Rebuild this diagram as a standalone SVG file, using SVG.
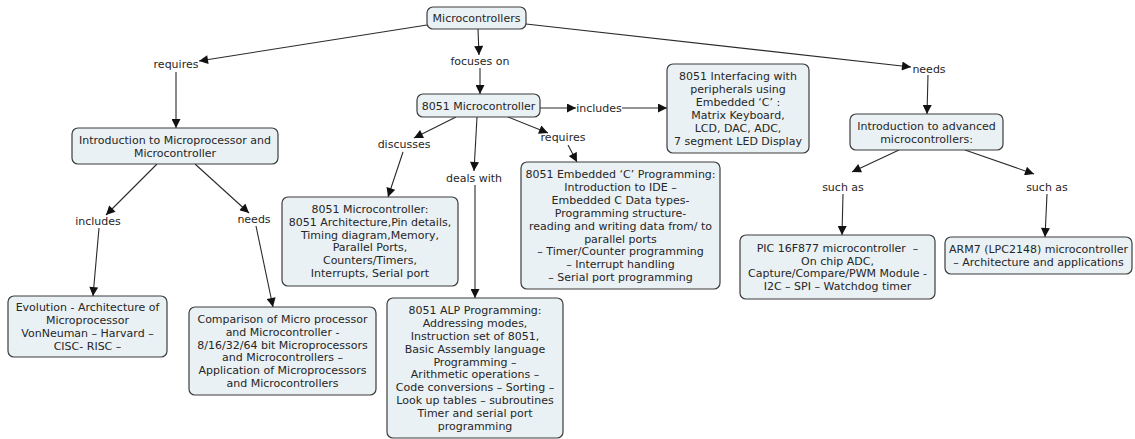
<svg xmlns="http://www.w3.org/2000/svg" width="1135" height="439" viewBox="0 0 1135 439">
<defs>
<style>
.box{fill:#eaf1f4;stroke:#3c3c3c;stroke-width:1.2}
.t{font-family:"DejaVu Sans",Verdana,sans-serif;font-size:11px;fill:#262626;text-anchor:middle}
.c{stroke:#2a2a2a;stroke-width:1.1;fill:none;marker-end:url(#ah)}
</style>
<marker id="ah" viewBox="0 0 10 10" refX="10" refY="5" markerWidth="10" markerHeight="9" markerUnits="userSpaceOnUse" orient="auto">
<path d="M0,0 L10,5 L0,10 z" fill="#111"/>
</marker>
</defs>
<rect width="1135" height="439" fill="#fff"/>
<g id="connectors">
<line class="c" x1="427" y1="25" x2="199" y2="61"/>
<line class="c" x1="176" y1="72" x2="176" y2="128"/>
<line class="c" x1="478" y1="29" x2="479" y2="55"/>
<line class="c" x1="480" y1="68" x2="480" y2="94"/>
<line class="c" x1="526" y1="24" x2="911" y2="67"/>
<line class="c" x1="928" y1="75" x2="927" y2="114"/>
<line class="c" x1="540" y1="108" x2="576" y2="108"/>
<line class="c" x1="622" y1="108" x2="667" y2="108"/>
<line class="c" x1="456" y1="117" x2="414" y2="138"/>
<line class="c" x1="403" y1="152" x2="388" y2="197"/>
<line class="c" x1="477" y1="117" x2="474" y2="171"/>
<line class="c" x1="475" y1="185" x2="475" y2="298"/>
<line class="c" x1="508" y1="117" x2="548" y2="133"/>
<line class="c" x1="568" y1="145" x2="577" y2="162"/>
<line class="c" x1="157" y1="164" x2="106" y2="215"/>
<line class="c" x1="99" y1="228" x2="93" y2="296"/>
<line class="c" x1="195" y1="164" x2="249" y2="213"/>
<line class="c" x1="256" y1="226" x2="273" y2="307"/>
<line class="c" x1="899" y1="150" x2="852" y2="172"/>
<line class="c" x1="843" y1="194" x2="842" y2="235"/>
<line class="c" x1="965" y1="150" x2="1034" y2="174"/>
<line class="c" x1="1047" y1="194" x2="1045" y2="237"/>
</g>
<g id="labels">
<text class="t" x="176" y="68">requires</text>
<text class="t" x="480" y="65">focuses on</text>
<text class="t" x="929" y="73">needs</text>
<text class="t" x="599" y="112">includes</text>
<text class="t" x="404" y="148">discusses</text>
<text class="t" x="474" y="182">deals with</text>
<text class="t" x="563" y="141">requires</text>
<text class="t" x="98" y="225">includes</text>
<text class="t" x="254" y="223">needs</text>
<text class="t" x="843" y="191">such as</text>
<text class="t" x="1047" y="191">such as</text>
</g>
<g id="n-microcontrollers">
<rect class="box" x="427" y="7" width="99" height="22" rx="6"/>
<text class="t" x="476.5" y="22">Microcontrollers</text>
</g>
<g id="n-intro-mp">
<rect class="box" x="72" y="128" width="206" height="36" rx="6"/>
<text class="t" x="175" y="144">Introduction to Microprocessor and</text>
<text class="t" x="175" y="157">Microcontroller</text>
</g>
<g id="n-8051">
<rect class="box" x="417" y="94" width="123" height="23" rx="6"/>
<text class="t" x="478.5" y="109.5">8051 Microcontroller</text>
</g>
<g id="n-interfacing">
<rect class="box" x="667" y="64" width="142" height="89" rx="6"/>
<text class="t" x="738" y="80">8051 Interfacing with</text>
<text class="t" x="738" y="93">peripherals using</text>
<text class="t" x="738" y="106">Embedded ‘C’ :</text>
<text class="t" x="738" y="119">Matrix Keyboard,</text>
<text class="t" x="738" y="132">LCD, DAC, ADC,</text>
<text class="t" x="738" y="145">7 segment LED Display</text>
</g>
<g id="n-intro-adv">
<rect class="box" x="850" y="114" width="153" height="36" rx="6"/>
<text class="t" x="926.5" y="130">Introduction to advanced</text>
<text class="t" x="926.5" y="143">microcontrollers:</text>
</g>
<g id="n-8051-detail">
<rect class="box" x="282" y="197" width="176" height="89" rx="6"/>
<text class="t" x="370" y="213">8051 Microcontroller:</text>
<text class="t" x="370" y="225.8">8051 Architecture,Pin details,</text>
<text class="t" x="370" y="238.6">Timing diagram,Memory,</text>
<text class="t" x="370" y="251.4">Parallel Ports,</text>
<text class="t" x="370" y="264.2">Counters/Timers,</text>
<text class="t" x="370" y="277">Interrupts, Serial port</text>
</g>
<g id="n-embedded-c">
<rect class="box" x="521" y="162" width="199" height="127" rx="6"/>
<text class="t" x="620.5" y="178">8051 Embedded ‘C’ Programming:</text>
<text class="t" x="620.5" y="190.9">Introduction to IDE –</text>
<text class="t" x="620.5" y="203.8">Embedded C Data types-</text>
<text class="t" x="620.5" y="216.7">Programming structure-</text>
<text class="t" x="620.5" y="229.6">reading and writing data from/ to</text>
<text class="t" x="620.5" y="242.5">parallel ports</text>
<text class="t" x="620.5" y="255.4">– Timer/Counter programming</text>
<text class="t" x="620.5" y="268.3">– Interrupt handling</text>
<text class="t" x="620.5" y="281.2">– Serial port programming</text>
</g>
<g id="n-alp">
<rect class="box" x="387" y="298" width="176" height="140" rx="6"/>
<text class="t" x="475" y="314.4">8051 ALP Programming:</text>
<text class="t" x="475" y="327.2">Addressing modes,</text>
<text class="t" x="475" y="340">Instruction set of 8051,</text>
<text class="t" x="475" y="352.8">Basic Assembly language</text>
<text class="t" x="475" y="365.6">Programming –</text>
<text class="t" x="475" y="378.4">Arithmetic operations –</text>
<text class="t" x="475" y="391.2">Code conversions – Sorting –</text>
<text class="t" x="475" y="404">Look up tables – subroutines</text>
<text class="t" x="475" y="416.8">Timer and serial port</text>
<text class="t" x="475" y="429.6">programming</text>
</g>
<g id="n-evolution">
<rect class="box" x="8" y="296" width="159" height="61" rx="6"/>
<text class="t" x="87.5" y="311.3">Evolution - Architecture of</text>
<text class="t" x="87.5" y="324.1">Microprocessor</text>
<text class="t" x="87.5" y="336.9">VonNeuman – Harvard –</text>
<text class="t" x="87.5" y="349.7">CISC- RISC –</text>
</g>
<g id="n-comparison">
<rect class="box" x="189" y="307" width="187" height="88" rx="6"/>
<text class="t" x="282.5" y="323">Comparison of Micro processor</text>
<text class="t" x="282.5" y="335.8">and Microcontroller -</text>
<text class="t" x="282.5" y="348.6">8/16/32/64 bit Microprocessors</text>
<text class="t" x="282.5" y="361.4">and Microcontrollers –</text>
<text class="t" x="282.5" y="374.2">Application of Microprocessors</text>
<text class="t" x="282.5" y="387">and Microcontrollers</text>
</g>
<g id="n-pic">
<rect class="box" x="740" y="235" width="195" height="64" rx="6"/>
<text class="t" x="837.5" y="251.8">PIC 16F877 microcontroller &#160;–</text>
<text class="t" x="837.5" y="264.6">On chip ADC,</text>
<text class="t" x="837.5" y="277.4">Capture/Compare/PWM Module -</text>
<text class="t" x="837.5" y="290.2">I2C – SPI – Watchdog timer</text>
</g>
<g id="n-arm">
<rect class="box" x="945" y="237" width="187" height="37" rx="6"/>
<text class="t" x="1038.5" y="253">ARM7 (LPC2148) microcontroller</text>
<text class="t" x="1038.5" y="266">– Architecture and applications</text>
</g>
</svg>
